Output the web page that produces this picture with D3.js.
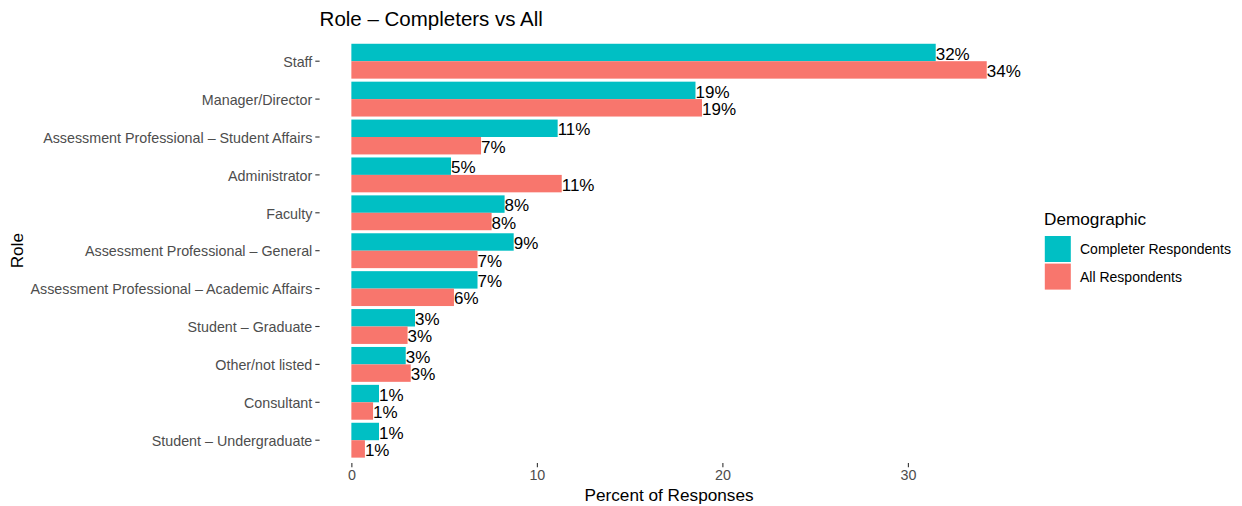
<!DOCTYPE html>
<html>
<head>
<meta charset="utf-8">
<script src="https://cdn.jsdelivr.net/npm/d3@7"></script>
<style>
  html, body { margin: 0; padding: 0; background: #ffffff; }
  svg { display: block; font-family: "Liberation Sans", Arial, Helvetica, sans-serif; }
</style>
</head>
<body>
<svg id="chart" width="1242" height="506"></svg>
<script>
// Roles, top to bottom
const roles = [
  "Staff",
  "Manager/Director",
  "Assessment Professional \u2013 Student Affairs",
  "Administrator",
  "Faculty",
  "Assessment Professional \u2013 General",
  "Assessment Professional \u2013 Academic Affairs",
  "Student \u2013 Graduate",
  "Other/not listed",
  "Consultant",
  "Student \u2013 Undergraduate"
];

// Percent of responses per role
const completerValues = [31.5, 18.55, 11.12, 5.37, 8.26, 8.75, 6.8, 3.43, 2.93, 1.49, 1.49];
const allValues       = [34.25, 18.9, 6.99, 11.34, 7.56, 6.8, 5.53, 3.03, 3.2, 1.17, 0.73];

const seriesNames  = ["Completer Respondents", "All Respondents"];
const seriesColors = ["#00BFC4", "#F8766D"];
const xTicks = [0, 10, 20, 30];

const chartTitle = "Role \u2013 Completers vs All";
const xTitle = "Percent of Responses";
const yTitle = "Role";
const legendTitle = "Demographic";

// Long-format rows built from the arrays above
const rows = [];
roles.forEach((r, i) => {
  rows.push({ role: r, series: seriesNames[0], value: completerValues[i] });
  rows.push({ role: r, series: seriesNames[1], value: allValues[i] });
});

const svg = d3.select("#chart");
const panel = { left: 319.6, right: 1018.5, top: 38.5, bottom: 462.9 };

const maxVal = d3.max(rows, d => d.value);
const x = d3.scaleLinear()
  .domain([-0.05 * maxVal, maxVal * 1.05])
  .range([panel.left, panel.right]);

const y = d3.scaleBand()
  .domain(roles)
  .range([panel.top, panel.bottom])
  .paddingInner(0.08)
  .paddingOuter(0.139);

const ySub = d3.scaleBand()
  .domain(seriesNames)
  .range([0, y.bandwidth()]);

const color = d3.scaleOrdinal().domain(seriesNames).range(seriesColors);
const fmt = v => d3.format(".0f")(v) + "%";

// Bars
const g = svg.append("g");
g.selectAll("rect.bar")
  .data(rows)
  .join("rect")
  .attr("class", "bar")
  .attr("x", x(0))
  .attr("y", d => y(d.role) + ySub(d.series))
  .attr("width", d => x(d.value) - x(0))
  .attr("height", ySub.bandwidth())
  .attr("fill", d => color(d.series));

// Value labels at bar ends
g.selectAll("text.val")
  .data(rows)
  .join("text")
  .attr("class", "val")
  .attr("x", d => x(d.value))
  .attr("y", d => y(d.role) + ySub(d.series) + ySub.bandwidth() / 2)
  .attr("dy", "0.42em")
  .attr("font-size", 17)
  .attr("fill", "#000000")
  .text(d => fmt(d.value));

// Axes: ticks and labels only, no axis lines
const xAxis = svg.append("g")
  .attr("transform", `translate(0,${panel.bottom})`)
  .call(d3.axisBottom(x).tickValues(xTicks).tickSizeInner(4.3).tickSizeOuter(0).tickPadding(3));
const yAxis = svg.append("g")
  .attr("transform", `translate(${panel.left},0)`)
  .call(d3.axisLeft(y).tickSizeInner(4.3).tickSizeOuter(0).tickPadding(3));

[xAxis, yAxis].forEach(a => {
  a.select(".domain").remove();
  a.selectAll(".tick line").attr("stroke", "#333333").attr("stroke-width", 1.1);
  a.selectAll(".tick text")
    .attr("fill", "#4d4d4d")
    .attr("font-size", 14.3)
    .attr("font-family", "Liberation Sans, Arial, sans-serif");
});
yAxis.selectAll(".tick text").attr("dy", "0.4em");

// Titles
svg.append("text")
  .attr("x", panel.left)
  .attr("y", 26)
  .attr("font-size", 20.5)
  .attr("fill", "#000")
  .text(chartTitle);

svg.append("text")
  .attr("x", (panel.left + panel.right) / 2)
  .attr("y", 501)
  .attr("text-anchor", "middle")
  .attr("font-size", 17.2)
  .attr("fill", "#000")
  .text(xTitle);

svg.append("text")
  .attr("transform", `translate(23,${(panel.top + panel.bottom) / 2}) rotate(-90)`)
  .attr("text-anchor", "middle")
  .attr("font-size", 17.2)
  .attr("fill", "#000")
  .text(yTitle);

// Legend
const legend = svg.append("g").attr("transform", "translate(1044,0)");
legend.append("text")
  .attr("x", 0)
  .attr("y", 225)
  .attr("font-size", 17.2)
  .attr("fill", "#000")
  .text(legendTitle);

const keySize = 27.6;
const keys = legend.selectAll("g.key")
  .data(seriesNames)
  .join("g")
  .attr("class", "key")
  .attr("transform", (d, i) => `translate(0,${235.2 + i * keySize})`);
keys.append("rect")
  .attr("x", 0.8)
  .attr("y", 0.8)
  .attr("width", keySize - 1.6)
  .attr("height", keySize - 1.6)
  .attr("fill", d => color(d));
keys.append("text")
  .attr("x", 36)
  .attr("y", keySize / 2)
  .attr("dy", "0.36em")
  .attr("font-size", 14)
  .attr("fill", "#000")
  .text(d => d);
</script>
</body>
</html>
